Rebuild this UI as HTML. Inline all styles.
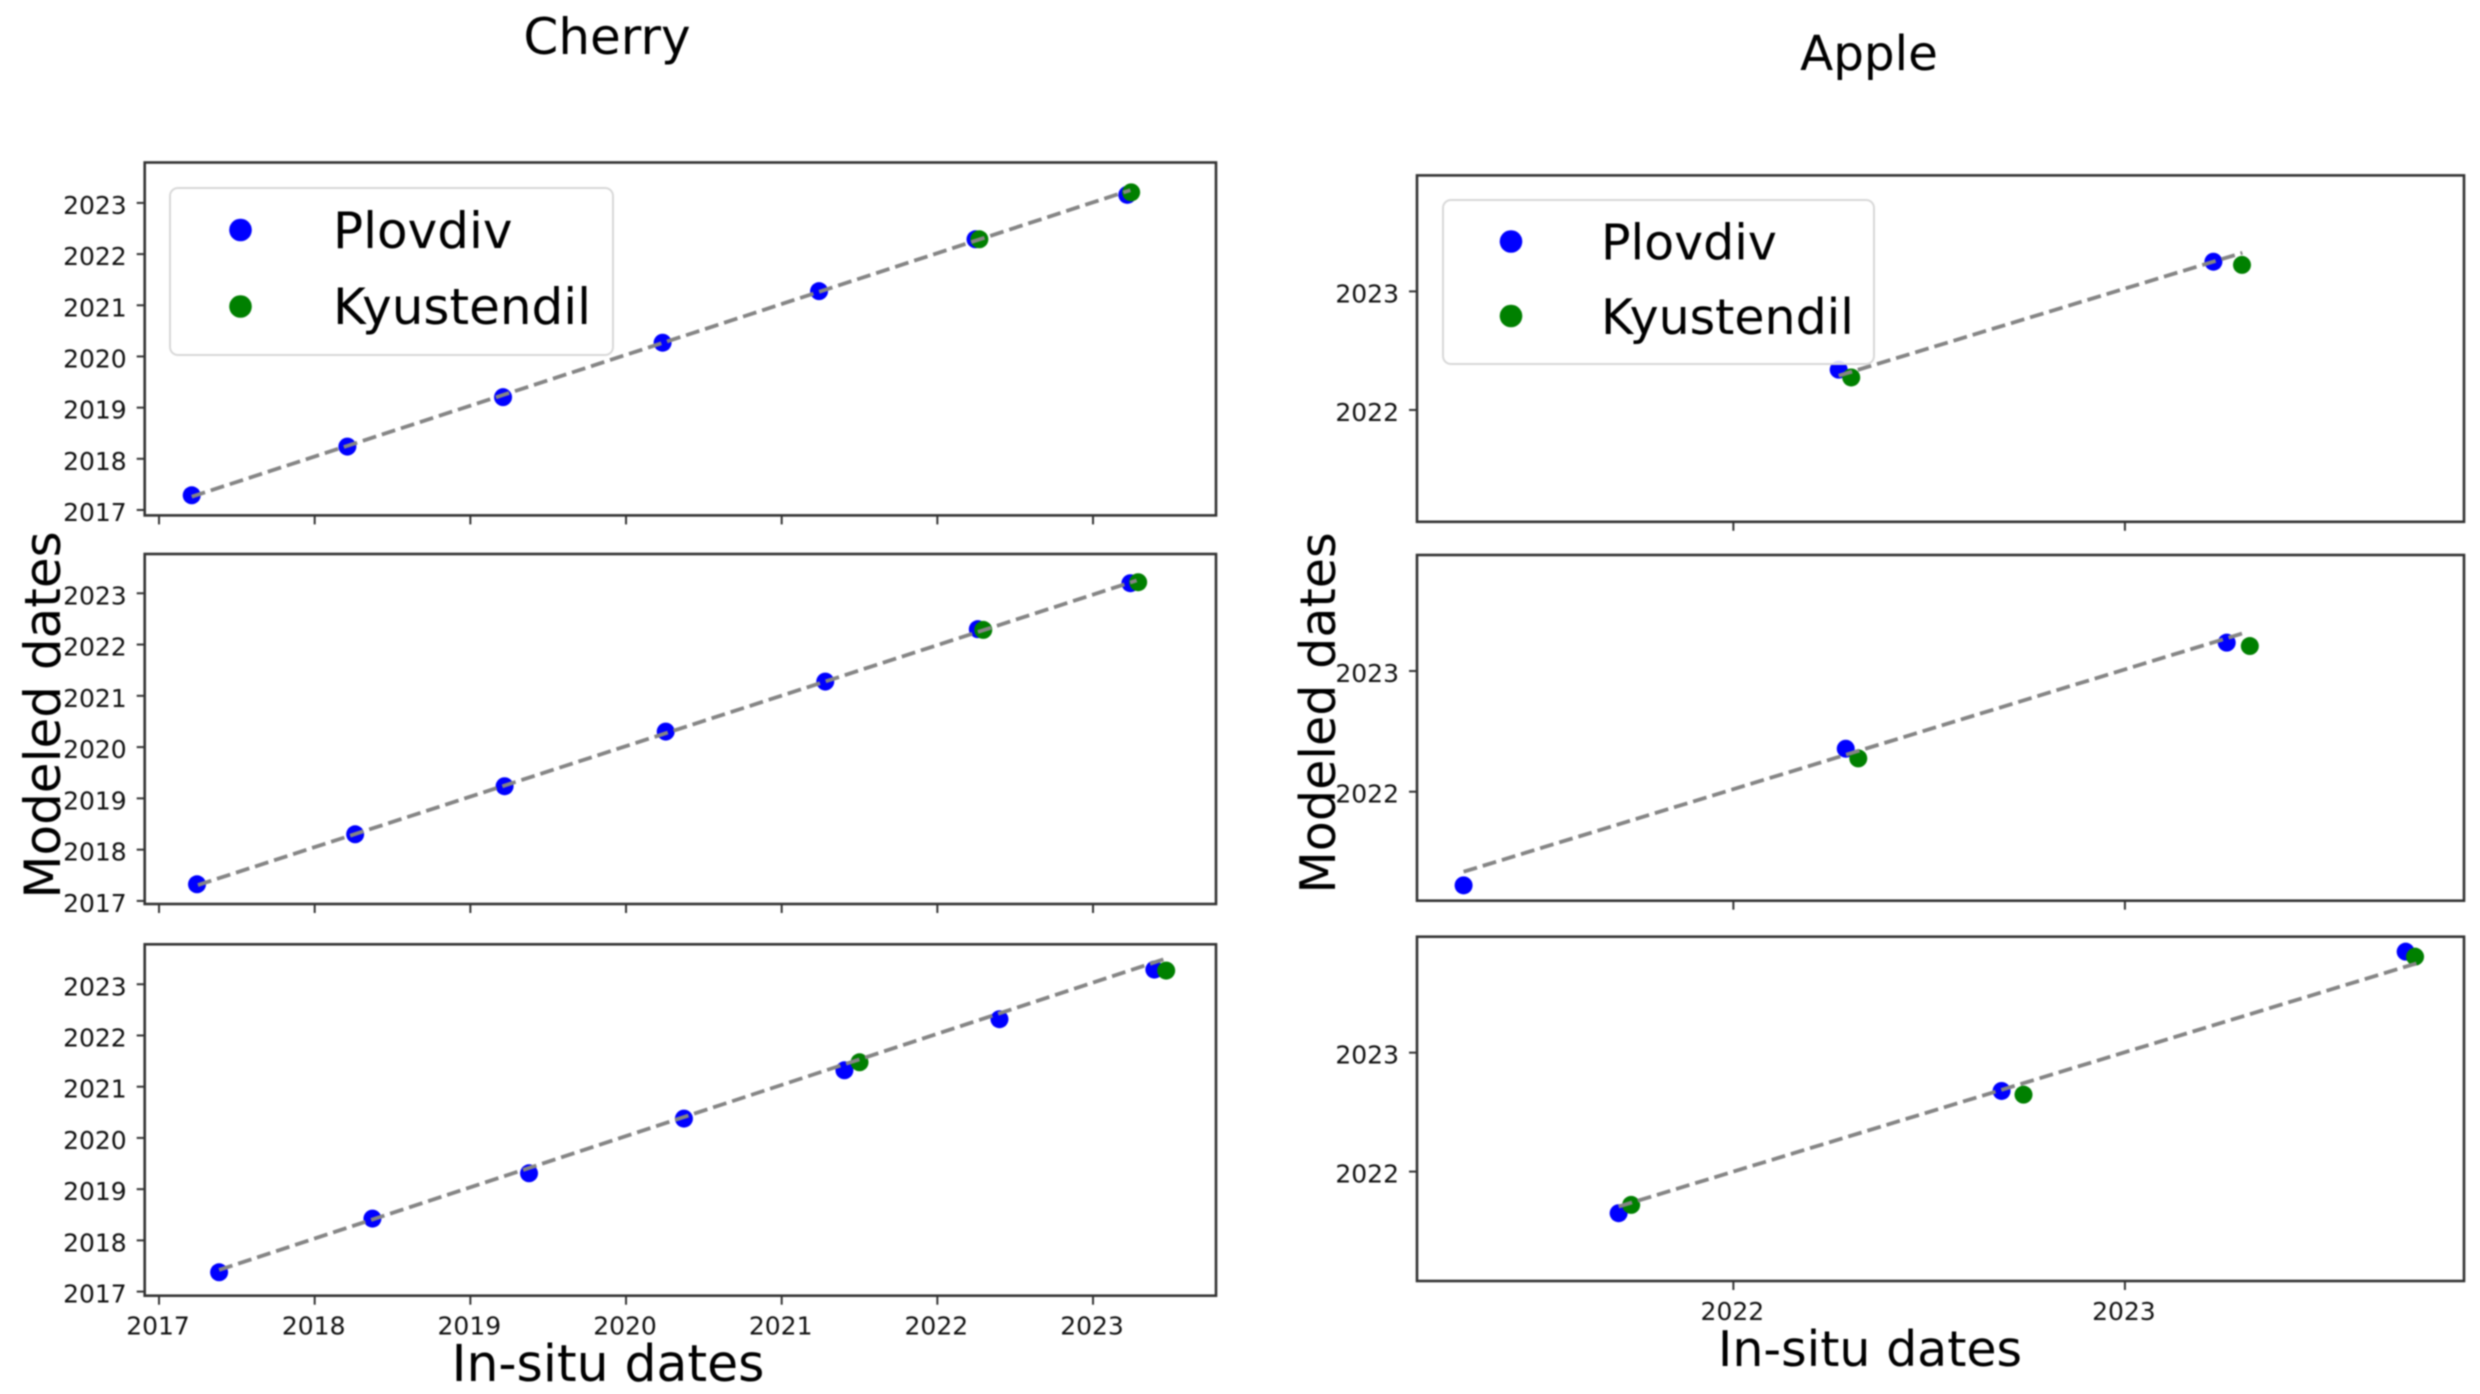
<!DOCTYPE html>
<html lang="en">
<head>
<meta charset="utf-8">
<title>Cherry and Apple modeled vs in-situ dates</title>
<style>
html,body{margin:0;padding:0;background:#fff;width:2480px;height:1394px;overflow:hidden}
svg{display:block;font-family:"DejaVu Sans","Liberation Sans",sans-serif;filter:blur(0.7px)}
</style>
</head>
<body>
<svg id="figure" xmlns="http://www.w3.org/2000/svg" width="2480" height="1394" viewBox="0 0 2480 1394">
  <rect x="0" y="0" width="2480" height="1394" fill="#fff"/>
  <g id="panels"></g>

  <text x="607" y="54" font-size="50" text-anchor="middle" fill="#000">Cherry</text>
  <text x="1869" y="70" font-size="48.4" text-anchor="middle" fill="#000">Apple</text>
  <text x="608" y="1381" font-size="50.4" text-anchor="middle" fill="#000">In-situ dates</text>
  <text x="1870" y="1366" font-size="49" text-anchor="middle" fill="#000">In-situ dates</text>
  <text transform="translate(60,715) rotate(-90)" font-size="50" text-anchor="middle" fill="#000">Modeled dates</text>
  <text transform="translate(1335,713) rotate(-90)" font-size="49.2" text-anchor="middle" fill="#000">Modeled dates</text>

  <g>
    <rect x="170" y="188" width="443" height="167" rx="8" fill="#fff" fill-opacity="0.85" stroke="#d8d8d8" stroke-width="2"/>
    <circle cx="240.5" cy="230" r="11.3" fill="#0000ff"/>
    <text x="333" y="248" font-size="50" fill="#000">Plovdiv</text>
    <circle cx="240.5" cy="306.5" r="11.3" fill="#008000"/>
    <text x="333" y="324" font-size="50" fill="#000">Kyustendil</text>
  </g>
  <g>
    <rect x="1443" y="200" width="431" height="164" rx="8" fill="#fff" fill-opacity="0.85" stroke="#d8d8d8" stroke-width="2"/>
    <circle cx="1511" cy="241.5" r="11.3" fill="#0000ff"/>
    <text x="1601" y="259.5" font-size="49" fill="#000">Plovdiv</text>
    <circle cx="1511" cy="316" r="11.3" fill="#008000"/>
    <text x="1601" y="334" font-size="49" fill="#000">Kyustendil</text>
  </g>
</svg>
<script>
// ---- Tick labels ----
const cherryYearTicks = [2017, 2018, 2019, 2020, 2021, 2022, 2023];
const appleYearTicks = [2022, 2023];

// ---- Cherry, top panel (decimal years) ----
const cherryTopPlovdivX = [2017.21, 2018.21, 2019.21, 2020.235, 2021.24, 2022.245, 2023.22];
const cherryTopPlovdivY = [2017.287, 2018.239, 2019.204, 2020.268, 2021.276, 2022.29, 2023.158];
const cherryTopKyustendilX = [2022.27, 2023.245];
const cherryTopKyustendilY = [2022.29, 2023.207];
const cherryTopFitX = [2017.21, 2023.24];
const cherryTopFitY = [2017.26, 2023.25];

// ---- Cherry, middle panel ----
const cherryMidPlovdivX = [2017.244, 2018.26, 2019.22, 2020.255, 2021.28, 2022.26, 2023.24];
const cherryMidPlovdivY = [2017.325, 2018.30, 2019.237, 2020.303, 2021.278, 2022.30, 2023.196];
const cherryMidKyustendilX = [2022.295, 2023.29];
const cherryMidKyustendilY = [2022.286, 2023.216];
const cherryMidFitX = [2017.25, 2023.28];
const cherryMidFitY = [2017.31, 2023.25];

// ---- Cherry, bottom panel ----
const cherryLowPlovdivX = [2017.386, 2018.371, 2019.377, 2020.372, 2021.403, 2022.399, 2023.394];
const cherryLowPlovdivY = [2017.377, 2018.425, 2019.31, 2020.377, 2021.32, 2022.317, 2023.286];
const cherryLowKyustendilX = [2021.50, 2023.47];
const cherryLowKyustendilY = [2021.477, 2023.267];
const cherryLowFitX = [2017.386, 2023.455];
const cherryLowFitY = [2017.423, 2023.488];

// ---- Apple, top panel ----
const appleTopPlovdivX = [2022.269, 2023.226];
const appleTopPlovdivY = [2022.34, 2023.25];
const appleTopKyustendilX = [2022.301, 2023.299];
const appleTopKyustendilY = [2022.274, 2023.223];
const appleTopFitX = [2022.269, 2023.30];
const appleTopFitY = [2022.289, 2023.325];

// ---- Apple, middle panel ----
const appleMidPlovdivX = [2021.311, 2022.287, 2023.26];
const appleMidPlovdivY = [2021.224, 2022.356, 2023.235];
const appleMidKyustendilX = [2022.319, 2023.319];
const appleMidKyustendilY = [2022.276, 2023.207];
const appleMidFitX = [2021.311, 2023.309];
const appleMidFitY = [2021.337, 2023.32];

// ---- Apple, bottom panel ----
const appleLowPlovdivX = [2021.707, 2022.685, 2023.717];
const appleLowPlovdivY = [2021.65, 2022.678, 2023.849];
const appleLowKyustendilX = [2021.739, 2022.741, 2023.741];
const appleLowKyustendilY = [2021.72, 2022.647, 2023.807];
const appleLowFitX = [2021.707, 2023.745];
const appleLowFitY = [2021.706, 2023.751];

const SVG_NS = 'http://www.w3.org/2000/svg';
const panelsGroup = document.getElementById('panels');

function make(tag, parent, attrs) {
  const el = document.createElementNS(SVG_NS, tag);
  for (const key in attrs) el.setAttribute(key, attrs[key]);
  parent.appendChild(el);
  return el;
}

function drawPanel(p) {
  const sx = v => p.box[0] + (v - p.xlim[0]) / (p.xlim[1] - p.xlim[0]) * (p.box[2] - p.box[0]);
  const sy = v => p.box[3] - (v - p.ylim[0]) / (p.ylim[1] - p.ylim[0]) * (p.box[3] - p.box[1]);

  const g = make('g', panelsGroup, {});
  
  

  p.plovdiv[0].forEach((xv, i) => {
    const dot = make('circle', g, {cx: sx(xv), cy: sy(p.plovdiv[1][i]), r: 9, fill: '#0000ff'});
    
    
  });
  p.kyustendil[0].forEach((xv, i) => {
    const dot = make('circle', g, {cx: sx(xv), cy: sy(p.kyustendil[1][i]), r: 9, fill: '#008000'});
    
    
  });

  const fit = make('line', g, {
    x1: sx(p.fit[0][0]), y1: sy(p.fit[1][0]), x2: sx(p.fit[0][1]), y2: sy(p.fit[1][1]),
    stroke: '#858585', 'stroke-width': 3.8, 'stroke-dasharray': '14 6'
  });
  
  

  const frame = make('rect', g, {
    x: p.box[0], y: p.box[1], width: p.box[2] - p.box[0], height: p.box[3] - p.box[1],
    fill: 'none', stroke: '#333', 'stroke-width': 2.6
  });
  
  

  p.xticks.forEach(t => {
    const tick = make('line', g, {x1: sx(t), x2: sx(t), y1: p.box[3], y2: p.box[3] + 9, stroke: '#333', 'stroke-width': 2});
    
    
    if (p.showXLabels) {
      const label = make('text', g, {x: sx(t) - 1, y: p.box[3] + 39, 'font-size': 25, 'text-anchor': 'middle', fill: '#111'});
      label.textContent = String(t);
      
      
    }
  });
  p.yticks.forEach(t => {
    const tick = make('line', g, {x1: p.box[0] - 8, x2: p.box[0], y1: sy(t), y2: sy(t), stroke: '#333', 'stroke-width': 2});
    
    
    const label = make('text', g, {x: p.box[0] - 18, y: sy(t) + 11, 'font-size': 25, 'text-anchor': 'end', fill: '#111'});
    label.textContent = String(t);
    
    
  });
}

const cherryXlim = [2016.908, 2023.79];
const appleXlim = [2021.192, 2023.866];

[
  {name: 'cherry-top', box: [144.7, 162.5, 1216, 515.4], xlim: cherryXlim, ylim: [2016.894, 2023.79],
   xticks: cherryYearTicks, yticks: cherryYearTicks, showXLabels: false,
   plovdiv: [cherryTopPlovdivX, cherryTopPlovdivY], kyustendil: [cherryTopKyustendilX, cherryTopKyustendilY], fit: [cherryTopFitX, cherryTopFitY]},
  {name: 'cherry-middle', box: [144.7, 554, 1216, 904], xlim: cherryXlim, ylim: [2016.94, 2023.766],
   xticks: cherryYearTicks, yticks: cherryYearTicks, showXLabels: false,
   plovdiv: [cherryMidPlovdivX, cherryMidPlovdivY], kyustendil: [cherryMidKyustendilX, cherryMidKyustendilY], fit: [cherryMidFitX, cherryMidFitY]},
  {name: 'cherry-bottom', box: [144.7, 944.3, 1216, 1295.7], xlim: cherryXlim, ylim: [2016.92, 2023.78],
   xticks: cherryYearTicks, yticks: cherryYearTicks, showXLabels: true,
   plovdiv: [cherryLowPlovdivX, cherryLowPlovdivY], kyustendil: [cherryLowKyustendilX, cherryLowKyustendilY], fit: [cherryLowFitX, cherryLowFitY]},
  {name: 'apple-top', box: [1417, 175.4, 2464, 521.8], xlim: appleXlim, ylim: [2021.057, 2023.978],
   xticks: appleYearTicks, yticks: appleYearTicks, showXLabels: false,
   plovdiv: [appleTopPlovdivX, appleTopPlovdivY], kyustendil: [appleTopKyustendilX, appleTopKyustendilY], fit: [appleTopFitX, appleTopFitY]},
  {name: 'apple-middle', box: [1417, 555, 2464, 900.7], xlim: appleXlim, ylim: [2021.097, 2023.961],
   xticks: appleYearTicks, yticks: appleYearTicks, showXLabels: false,
   plovdiv: [appleMidPlovdivX, appleMidPlovdivY], kyustendil: [appleMidKyustendilX, appleMidKyustendilY], fit: [appleMidFitX, appleMidFitY]},
  {name: 'apple-bottom', box: [1417, 936.7, 2464, 1281], xlim: appleXlim, ylim: [2021.08, 2023.975],
   xticks: appleYearTicks, yticks: appleYearTicks, showXLabels: true,
   plovdiv: [appleLowPlovdivX, appleLowPlovdivY], kyustendil: [appleLowKyustendilX, appleLowKyustendilY], fit: [appleLowFitX, appleLowFitY]}
].forEach(drawPanel);
</script>
</body>
</html>
